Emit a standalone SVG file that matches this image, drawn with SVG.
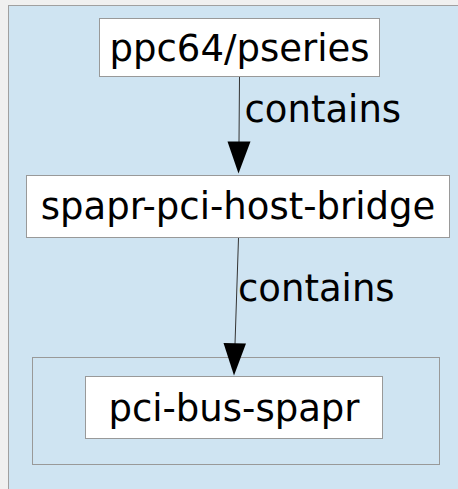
<svg xmlns="http://www.w3.org/2000/svg" width="458" height="489" viewBox="0 0 458 489">
  <style>
    text { font-family: "DejaVu Sans", "Liberation Sans", sans-serif; font-size: 37px; fill: #000; }
    .node rect { fill: #ffffff; stroke: #999999; stroke-width: 1; }
    .cluster rect { fill: none; stroke: #999999; stroke-width: 1; }
    .edge line { stroke: #333333; stroke-width: 1; }
    .edge polygon { fill: #000000; stroke: none; }
  </style>

  <!-- page and diagram area -->
  <rect x="0" y="0" width="458" height="489" fill="#f0f0f0"/>
  <rect x="8.5" y="5.5" width="460" height="490" fill="#cfe4f2" stroke="#a0a0a0" stroke-width="1"/>

  <!-- bus container -->
  <g id="cluster-pci-bus" class="cluster">
    <rect x="32.5" y="357.5" width="407" height="107"/>
  </g>

  <g id="node-pseries" class="node">
    <rect x="99.5" y="18.5" width="280" height="58"/>
    <text x="239.5" y="60.5" text-anchor="middle">ppc64/pseries</text>
  </g>

  <g id="node-host-bridge" class="node">
    <rect x="26.5" y="175.5" width="423" height="62"/>
    <text x="238" y="219" text-anchor="middle">spapr-pci-host-bridge</text>
  </g>

  <g id="node-pci-bus" class="node">
    <rect x="85.5" y="376.5" width="297" height="62"/>
    <text x="234" y="420.5" text-anchor="middle">pci-bus-spapr</text>
  </g>

  <g id="connectors" class="edge">
    <line x1="239.5" y1="77" x2="239" y2="142"/>
    <polygon points="227.5,141.5 250.5,141.5 238.5,173.5"/>
    <text x="244.5" y="121.5">contains</text>

    <line x1="238.5" y1="238" x2="235" y2="344"/>
    <polygon points="223.5,343 246,343.5 234,375.5"/>
    <text x="238" y="300.5">contains</text>
  </g>
</svg>
